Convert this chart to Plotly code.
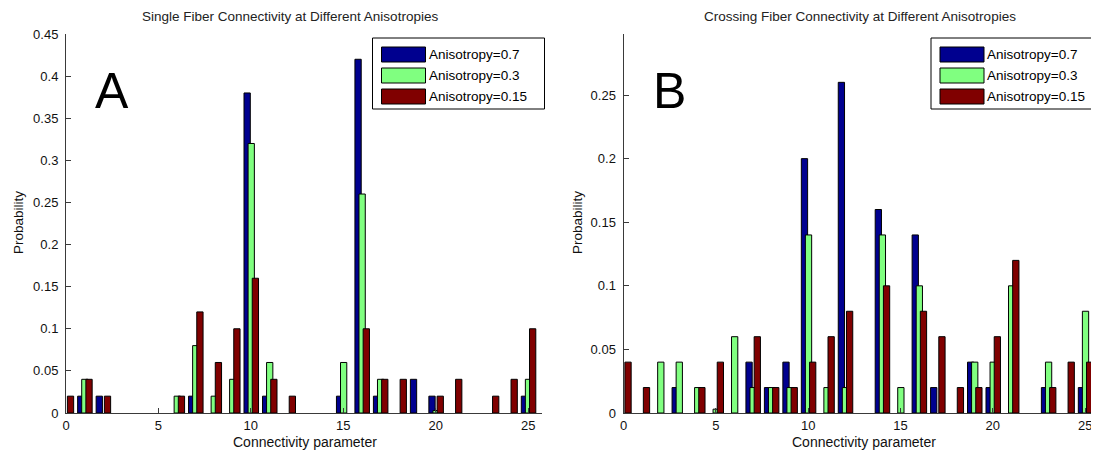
import plotly.graph_objects as go

# ---------------- data ----------------
connectivity = list(range(26))
series_names = ["Anisotropy=0.7", "Anisotropy=0.3", "Anisotropy=0.15"]

single_a07 = [0, 0.02, 0.02, 0, 0, 0, 0, 0.02, 0, 0, 0.38, 0.02, 0, 0, 0, 0.02,
              0.42, 0.02, 0, 0.04, 0.02, 0, 0, 0, 0, 0.02]
single_a03 = [0, 0.04, 0, 0, 0, 0, 0.02, 0.08, 0.02, 0.04, 0.32, 0.06, 0, 0, 0, 0.06,
              0.26, 0.04, 0, 0, 0.003, 0, 0, 0, 0, 0.04]
single_a015 = [0.02, 0.04, 0.02, 0, 0, 0, 0.02, 0.12, 0.06, 0.10, 0.16, 0.04, 0.02, 0, 0, 0,
               0.10, 0.04, 0.04, 0, 0.02, 0.04, 0, 0.02, 0.04, 0.10]

cross_a07 = [0.02, 0, 0, 0.02, 0, 0, 0, 0.04, 0.02, 0.04, 0.20, 0, 0.26, 0, 0.16, 0,
             0.14, 0.02, 0, 0.04, 0.02, 0, 0, 0.02, 0, 0.02]
cross_a03 = [0, 0, 0.04, 0.04, 0.02, 0.003, 0.06, 0.02, 0.02, 0.02, 0.14, 0.02, 0.02, 0, 0.14, 0.02,
             0.10, 0, 0, 0.04, 0.04, 0.10, 0, 0.04, 0, 0.08]
cross_a015 = [0.04, 0.02, 0, 0, 0.02, 0.04, 0, 0.06, 0.02, 0.02, 0.04, 0.06, 0.08, 0, 0.10, 0,
              0.08, 0.06, 0.02, 0.02, 0.06, 0.12, 0, 0.02, 0.04, 0.04]

x_ticks = [0, 5, 10, 15, 20, 25]
left_y_ticks = [0, 0.05, 0.1, 0.15, 0.2, 0.25, 0.3, 0.35, 0.4, 0.45]
right_y_ticks = [0, 0.05, 0.1, 0.15, 0.2, 0.25]

titles = ["Single Fiber Connectivity at Different Anisotropies",
          "Crossing Fiber Connectivity at Different Anisotropies"]
panel_letters = ["A", "B"]
x_label = "Connectivity parameter"
y_label = "Probability"

# ---------------- style ----------------
PAGE_MARGIN = 8          # default body margin of the html page
W, H = 1099 - PAGE_MARGIN, 453 - PAGE_MARGIN
colors = ["#00008F", "#80FF80", "#800000"]
bar_w = 0.34
offsets = [-0.2 - bar_w / 2, 0.02 - bar_w / 2, 0.245 - bar_w / 2]
FONT = "Liberation Sans, Arial, Helvetica, sans-serif"
AX = "#3a3a3a"


def px(x):
    """window pixel x -> paper fraction"""
    return (x - PAGE_MARGIN) / W


def py(y):
    """window pixel y (from top) -> paper fraction"""
    return 1 - (y - PAGE_MARGIN) / H


fig = go.Figure()
panels = [
    ([single_a07, single_a03, single_a015], "x", "y"),
    ([cross_a07, cross_a03, cross_a015], "x2", "y2"),
]
for vals, xa, ya in panels:
    for i, v in enumerate(vals):
        fig.add_trace(go.Bar(
            x=connectivity, y=[val if val > 0 else None for val in v], xaxis=xa, yaxis=ya,
            width=bar_w, offset=offsets[i],
            marker=dict(color=colors[i], line=dict(color="black", width=1)),
            name=series_names[i], showlegend=False,
        ))

axis_common = dict(showgrid=False, zeroline=False, showline=True, linecolor=AX, linewidth=1,
                   ticks="inside", ticklen=5, tickcolor=AX, automargin=False,
                   tickfont=dict(family=FONT, size=13, color="#111"))

ybot, ytop = py(413), py(34)
fig.update_layout(
    width=W, height=H, margin=dict(l=0, r=0, t=0, b=0, autoexpand=False),
    paper_bgcolor="white", plot_bgcolor="white",
    barmode="overlay", showlegend=False,
    xaxis=dict(domain=[px(66), px(542)], range=[0, 25.75], tickvals=x_ticks, anchor="y", **axis_common),
    yaxis=dict(domain=[ybot, ytop], range=[0, 0.45], tickvals=left_y_ticks, anchor="x",
               ticklabelstandoff=4, **axis_common),
    xaxis2=dict(domain=[px(623.5), 1.0], range=[0, 25.75], tickvals=x_ticks, anchor="y2", **axis_common),
    yaxis2=dict(domain=[ybot, ytop], range=[0, 0.298], tickvals=right_y_ticks, anchor="x2",
                ticklabelstandoff=4, **axis_common),
)

ann = []
shapes = []
# titles, axis labels, panel letters
for cx, t in zip([290, 860], titles):
    ann.append(dict(x=px(cx), y=py(17), xref="paper", yref="paper", text=t, showarrow=False,
                    xanchor="center", yanchor="middle", font=dict(family=FONT, size=13.5, color="#222")))
for cx in [305, 864]:
    ann.append(dict(x=px(cx), y=py(442), xref="paper", yref="paper", text=x_label, showarrow=False,
                    xanchor="center", yanchor="middle", font=dict(family=FONT, size=14, color="#111")))
for cx in [18, 577]:
    ann.append(dict(x=px(cx), y=py(223), xref="paper", yref="paper", text=y_label, showarrow=False,
                    textangle=-90, xanchor="center", yanchor="middle",
                    font=dict(family=FONT, size=13.5, color="#111")))
for cx, letter in zip([112, 669], panel_letters):
    ann.append(dict(x=px(cx), y=py(91), xref="paper", yref="paper", text=letter, showarrow=False,
                    xanchor="center", yanchor="middle", font=dict(family=FONT, size=50, color="black")))

# legends drawn manually (MATLAB-style wide patches)
for bx in [372.5, 931]:
    shapes.append(dict(type="rect", xref="paper", yref="paper", x0=px(bx), x1=px(bx + 172),
                       y0=py(109), y1=py(38), line=dict(color="black", width=1), fillcolor="white"))
    for i, name in enumerate(series_names):
        top = 47 + i * 21
        shapes.append(dict(type="rect", xref="paper", yref="paper", x0=px(bx + 9), x1=px(bx + 53),
                           y0=py(top + 15), y1=py(top), line=dict(color="black", width=1),
                           fillcolor=colors[i]))
        ann.append(dict(x=px(bx + 54), y=py(top + 7.5), xref="paper", yref="paper", text=name,
                        showarrow=False, xanchor="left", yanchor="middle",
                        font=dict(family=FONT, size=13.5, color="black")))

fig.update_layout(annotations=ann, shapes=shapes)
fig.write_html("out.html")
